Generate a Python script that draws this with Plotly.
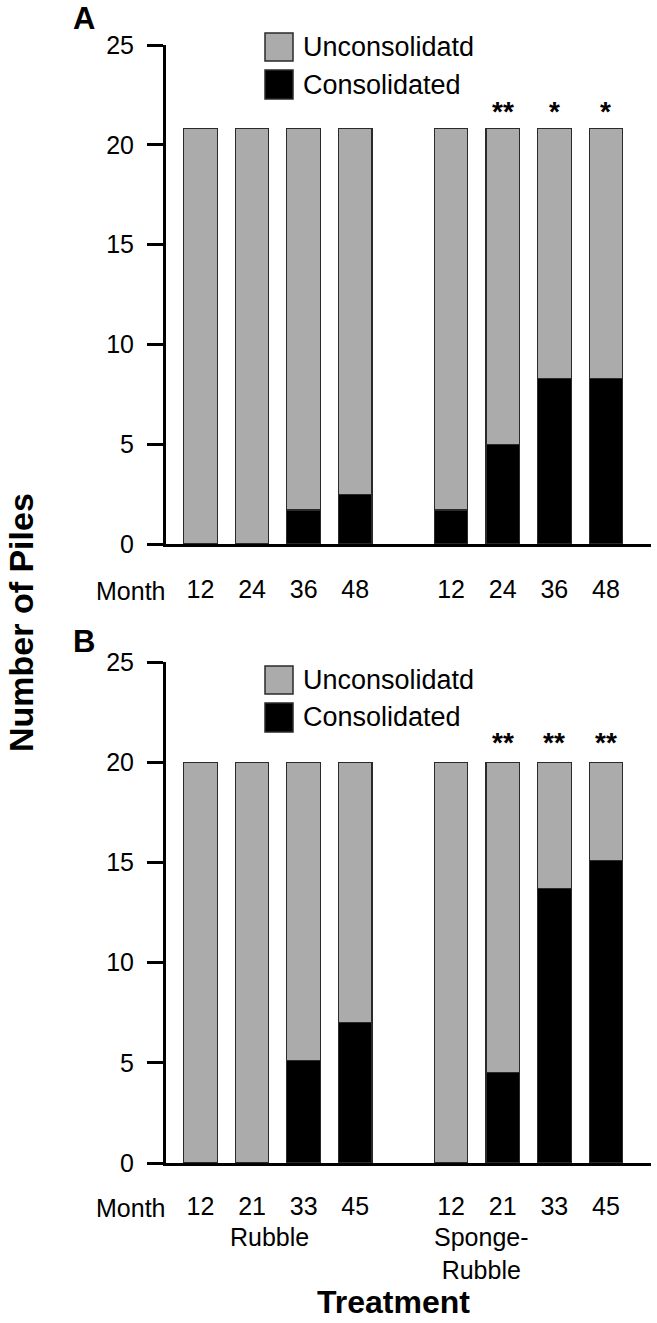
import plotly.graph_objects as go

# ---------------- data ----------------
months_A = ["12", "24", "36", "48", "12", "24", "36", "48"]
months_B = ["12", "21", "33", "45", "12", "21", "33", "45"]
treatments = ["Rubble", "Sponge-<br>Rubble"]
series_names = ["Unconsolidatd", "Consolidated"]

consolidated_A = [0, 0, 1.7, 2.5, 1.7, 5.0, 8.3, 8.3]
unconsolidated_A = [20.8, 20.8, 19.1, 18.3, 19.1, 15.8, 12.5, 12.5]
consolidated_B = [0, 0, 5.1, 7.0, 0, 4.5, 13.7, 15.1]
unconsolidated_B = [20, 20, 14.9, 13.0, 20, 15.5, 6.3, 4.9]
sig_A = ["", "", "", "", "", "**", "*", "*"]
sig_B = ["", "", "", "", "", "**", "**", "**"]
y_ticks = [0, 5, 10, 15, 20, 25]

# ---------------- layout helpers ----------------
W, H = 657, 1323
FONT = "Arial, 'Liberation Sans', sans-serif"
GRAY = "#ababab"
OUTLINE = "#2a2a2a"
GROUP_GAP = 0.857  # extra slot spacing between treatments

def positions(n_per_group=4, n_groups=2):
    xs = []
    for g in range(n_groups):
        for i in range(n_per_group):
            xs.append(g * (n_per_group + GROUP_GAP) + i)
    return xs

X = positions()

def px_y(p):
    return 1 - p / H

def px_x(p):
    return p / W

fig = go.Figure()

panels = [
    ("x", "y", consolidated_A, unconsolidated_A, months_A, sig_A, 0),
    ("x2", "y2", consolidated_B, unconsolidated_B, months_B, sig_B, 2),
]
for xa, ya, cons, uncons, months, sig, ysh in panels:
    fig.add_trace(go.Bar(x=X, y=cons, name=series_names[1], xaxis=xa, yaxis=ya,
                         marker=dict(color="black", line=dict(color=OUTLINE, width=1.2)),
                         width=0.65, showlegend=False))
    fig.add_trace(go.Bar(x=X, y=uncons, name=series_names[0], xaxis=xa, yaxis=ya,
                         marker=dict(color=GRAY, line=dict(color=OUTLINE, width=1.2)),
                         width=0.65, showlegend=False))
    for xi, c, u, s in zip(X, cons, uncons, sig):
        if s:
            fig.add_annotation(x=xi, y=c + u, xref=xa, yref=ya, text="<b>" + s + "</b>",
                               showarrow=False, xanchor="center", yanchor="bottom",
                               yshift=ysh, font=dict(family=FONT, size=28, color="black"))

xr = [-0.667, X[-1] + 0.873]
xdom = [px_x(166), px_x(651)]
axis_common = dict(showline=True, linewidth=3, linecolor="black", showgrid=False,
                   zeroline=False, automargin=False)
fig.update_layout(
    template="none",
    width=W, height=H, margin=dict(l=0, r=0, t=0, b=0, autoexpand=False),
    paper_bgcolor="white", plot_bgcolor="white", barmode="stack",
    font=dict(family=FONT, color="black"),
    xaxis=dict(domain=xdom, range=xr, anchor="y", tickvals=X, ticktext=months_A,
               ticks="", ticklabelstandoff=21, tickfont=dict(size=25), **axis_common),
    yaxis=dict(domain=[px_y(544), px_y(45)], range=[0, 25], anchor="x",
               tickvals=y_ticks, ticks="outside", ticklen=16, tickwidth=3,
               tickcolor="black", ticklabelstandoff=8, tickfont=dict(size=25),
               **axis_common),
    xaxis2=dict(domain=xdom, range=xr, anchor="y2", tickvals=X, ticktext=months_B,
                ticks="", ticklabelstandoff=19, tickfont=dict(size=25), **axis_common),
    yaxis2=dict(domain=[px_y(1163), px_y(662)], range=[0, 25], anchor="x2",
                tickvals=y_ticks, ticks="outside", ticklen=16, tickwidth=3,
                tickcolor="black", ticklabelstandoff=8, tickfont=dict(size=25),
                **axis_common),
)

# custom legends (large boxes like the original)
for (g_top, b_top, t1, t2) in [(33, 70, 47, 85), (666, 703, 680, 717)]:
    fig.add_shape(type="rect", xref="paper", yref="paper",
                  x0=px_x(265), x1=px_x(293), y0=px_y(g_top + 28), y1=px_y(g_top),
                  fillcolor=GRAY, line=dict(color=OUTLINE, width=1.5))
    fig.add_shape(type="rect", xref="paper", yref="paper",
                  x0=px_x(265), x1=px_x(293), y0=px_y(b_top + 29), y1=px_y(b_top),
                  fillcolor="black", line=dict(color=OUTLINE, width=1.5))
    fig.add_annotation(xref="paper", yref="paper", x=px_x(301), y=px_y(t1),
                       xanchor="left", yanchor="middle", text=series_names[0],
                       showarrow=False, font=dict(family=FONT, size=27))
    fig.add_annotation(xref="paper", yref="paper", x=px_x(301), y=px_y(t2),
                       xanchor="left", yanchor="middle", text=series_names[1],
                       showarrow=False, font=dict(family=FONT, size=27))

# "Month" labels
for yc in (591, 1208):
    fig.add_annotation(xref="paper", yref="paper", x=px_x(130), y=px_y(yc),
                       text="Month", showarrow=False, xanchor="center", yanchor="middle",
                       font=dict(family=FONT, size=25))

# treatment labels under panel B
mid1 = sum(X[:4]) / 4 - 0.17
mid2 = sum(X[4:]) / 4 - 0.92
fig.add_annotation(xref="x2", yref="paper", x=mid1, y=px_y(1221), text=treatments[0],
                   showarrow=False, xanchor="center", yanchor="top",
                   font=dict(family=FONT, size=25))
fig.add_annotation(xref="x2", yref="paper", x=mid2, y=px_y(1221), text=treatments[1],
                   showarrow=False, xanchor="center", yanchor="top",
                   font=dict(family=FONT, size=25))

# panel letters
fig.add_annotation(xref="paper", yref="paper", x=px_x(84), y=px_y(18), text="<b>A</b>",
                   showarrow=False, xanchor="center", yanchor="middle",
                   font=dict(family=FONT, size=31))
fig.add_annotation(xref="paper", yref="paper", x=px_x(84), y=px_y(641), text="<b>B</b>",
                   showarrow=False, xanchor="center", yanchor="middle",
                   font=dict(family=FONT, size=31))

# axis titles
fig.add_annotation(xref="paper", yref="paper", x=px_x(21), y=px_y(623),
                   text="<b>Number of Piles</b>", textangle=-90, showarrow=False,
                   xanchor="center", yanchor="middle",
                   font=dict(family=FONT, size=34))
fig.add_annotation(xref="paper", yref="paper", x=px_x(393), y=px_y(1302),
                   text="<b>Treatment</b>", showarrow=False,
                   xanchor="center", yanchor="middle",
                   font=dict(family=FONT, size=32))

fig.write_html(
    "out.html",
    config={"displayModeBar": False},
    post_script="document.body.style.margin='0';document.body.style.overflow='hidden';",
)
